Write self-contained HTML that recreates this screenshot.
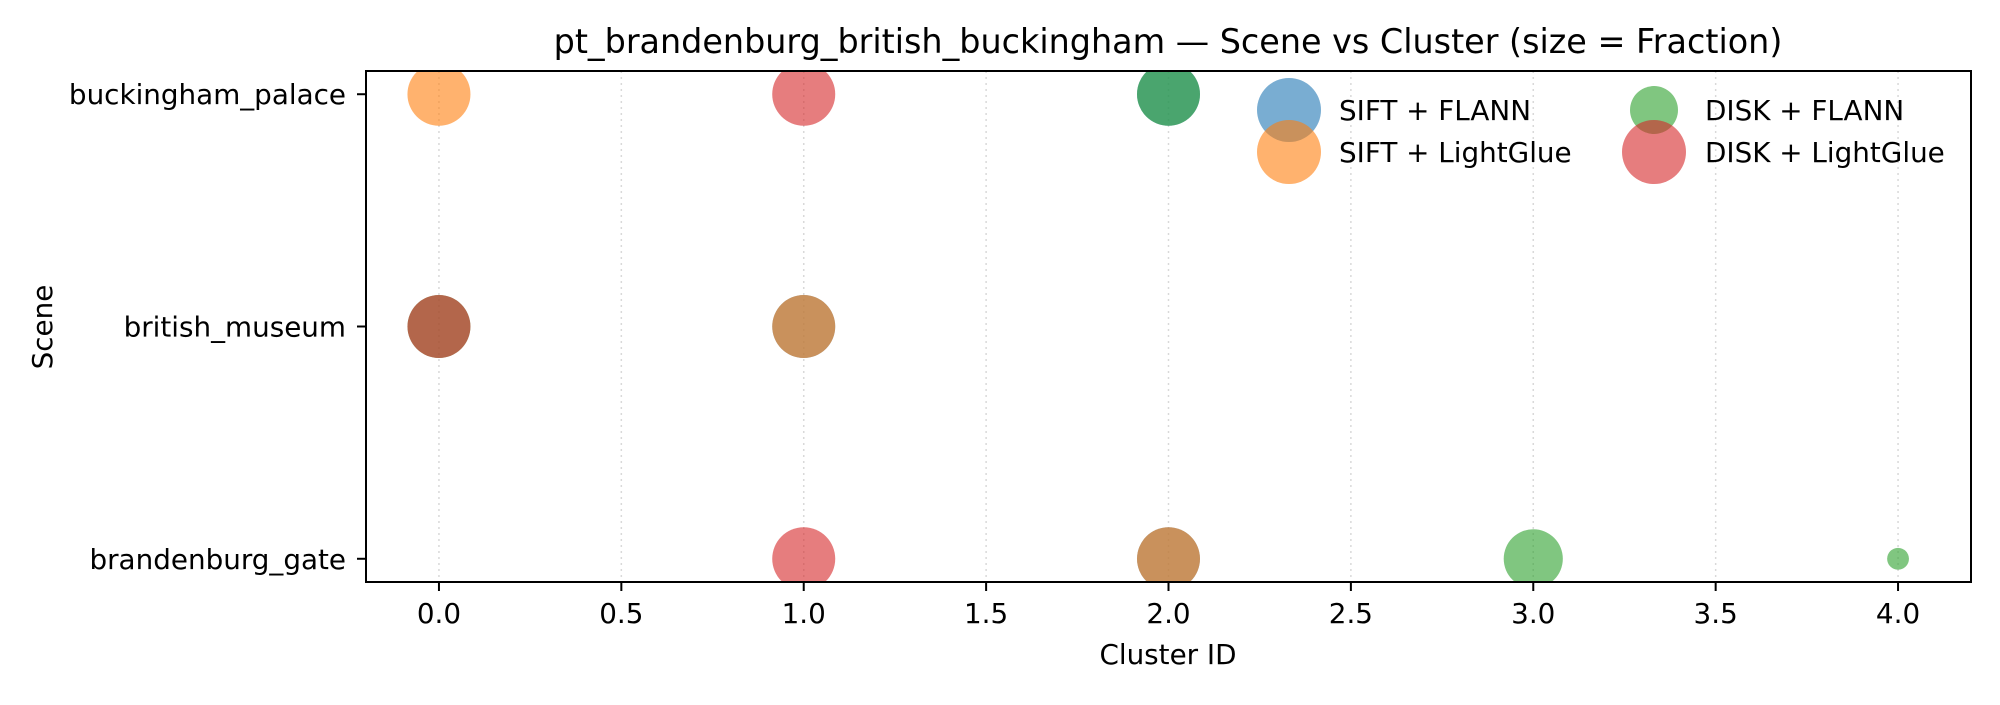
<!DOCTYPE html>
<html><head><meta charset="utf-8"><style>
body{margin:0;background:#fff;}
svg text{font-family:"DejaVu Sans","Liberation Sans",sans-serif;fill:#000;}
</style></head><body>
<svg id="chart" width="2000" height="700" viewBox="0 0 2000 700" xmlns="http://www.w3.org/2000/svg">
<rect width="2000" height="700" fill="#fff"/>
<text x="1168" y="53" font-size="33.4" text-anchor="middle">pt_brandenburg_british_buckingham — Scene vs Cluster (size = Fraction)</text>
<defs><clipPath id="clip"><rect x="366" y="71" width="1605" height="511"/></clipPath></defs>
<g id="grid"></g>
<g id="marks" clip-path="url(#clip)"></g>
<rect x="366" y="71" width="1605" height="511" fill="none" stroke="#000" stroke-width="2"/>
<g id="axes"></g>
<text x="1168" y="664" font-size="27.8" text-anchor="middle">Cluster ID</text>
<text x="0" y="0" font-size="27.8" text-anchor="middle" transform="translate(52,327) rotate(-90)">Scene</text>
<g>
<circle cx="1289" cy="110" r="32" fill="#1f77b4" fill-opacity="0.6"/>
<circle cx="1289" cy="152" r="32" fill="#ff7f0e" fill-opacity="0.6"/>
<circle cx="1654" cy="110" r="24" fill="#2ca02c" fill-opacity="0.6"/>
<circle cx="1654" cy="152" r="32" fill="#d62728" fill-opacity="0.6"/>
<text x="1339" y="120" font-size="27.8">SIFT + FLANN</text>
<text x="1339" y="162" font-size="27.8">SIFT + LightGlue</text>
<text x="1705" y="120" font-size="27.8">DISK + FLANN</text>
<text x="1705" y="162" font-size="27.8">DISK + LightGlue</text>
</g>
</svg>
<script>
const scenes = ["brandenburg_gate","british_museum","buckingham_palace"];
const xTicks = [0,0.5,1,1.5,2,2.5,3,3.5,4];
const xTickLabels = ["0.0","0.5","1.0","1.5","2.0","2.5","3.0","3.5","4.0"];
const seriesNames = ["SIFT + FLANN","SIFT + LightGlue","DISK + FLANN","DISK + LightGlue"];
const seriesColors = ["#1f77b4","#ff7f0e","#2ca02c","#d62728"];
const siftFlannCluster = [2,1,2];
const siftFlannScene = ["buckingham_palace","british_museum","brandenburg_gate"];
const siftFlannFrac = [1,1,1];
const siftLgCluster = [0,1,2];
const siftLgScene = ["buckingham_palace","british_museum","brandenburg_gate"];
const siftLgFrac = [1,1,1];
const diskFlannCluster = [2,0,3,4];
const diskFlannScene = ["buckingham_palace","british_museum","brandenburg_gate","brandenburg_gate"];
const diskFlannFrac = [1,1,0.88,0.12];
const diskLgCluster = [1,0,1];
const diskLgScene = ["buckingham_palace","british_museum","brandenburg_gate"];
const diskLgFrac = [1,1,1];

const L=366,R=1971,T=71,B=582;
const xMin=-0.2,xMax=4.2,yMin=-0.1,yMax=2.1;
const xs=v=>L+(v-xMin)/(xMax-xMin)*(R-L);
const ys=i=>B-(i-yMin)/(yMax-yMin)*(B-T);
const rs=f=>31.5*Math.sqrt(f);
const NS="http://www.w3.org/2000/svg";
const grid=document.getElementById('grid'),axes=document.getElementById('axes'),marks=document.getElementById('marks');
xTicks.forEach((t,i)=>{
  const x=xs(t);
  const g=document.createElementNS(NS,'line');
  g.setAttribute('x1',x);g.setAttribute('x2',x);g.setAttribute('y1',T);g.setAttribute('y2',B);
  g.setAttribute('stroke','#d9d9d9');g.setAttribute('stroke-width','1.5');g.setAttribute('stroke-dasharray','2,4');
  
  
  grid.appendChild(g);
  const tk=document.createElementNS(NS,'line');
  tk.setAttribute('x1',x);tk.setAttribute('x2',x);tk.setAttribute('y1',B);tk.setAttribute('y2',B+9);
  tk.setAttribute('stroke','#000');tk.setAttribute('stroke-width','2');
  
  
  axes.appendChild(tk);
  const tx=document.createElementNS(NS,'text');
  tx.setAttribute('x',x);tx.setAttribute('y',B+41);tx.setAttribute('font-size','27.8');tx.setAttribute('text-anchor','middle');
  tx.textContent=xTickLabels[i];
  
  
  axes.appendChild(tx);
});
scenes.forEach((s,i)=>{
  const y=ys(i);
  const tk=document.createElementNS(NS,'line');
  tk.setAttribute('x1',L-9);tk.setAttribute('x2',L);tk.setAttribute('y1',y);tk.setAttribute('y2',y);
  tk.setAttribute('stroke','#000');tk.setAttribute('stroke-width','2');
  
  
  axes.appendChild(tk);
  const tx=document.createElementNS(NS,'text');
  tx.setAttribute('x',L-20);tx.setAttribute('y',y+10);tx.setAttribute('font-size','27.8');tx.setAttribute('text-anchor','end');
  tx.textContent=s;
  
  
  axes.appendChild(tx);
});
const series=[[siftFlannCluster,siftFlannScene,siftFlannFrac],[siftLgCluster,siftLgScene,siftLgFrac],[diskFlannCluster,diskFlannScene,diskFlannFrac],[diskLgCluster,diskLgScene,diskLgFrac]];
series.forEach((sr,k)=>{
  sr[0].forEach((c,j)=>{
    const ci=document.createElementNS(NS,'circle');
    ci.setAttribute('cx',xs(c));ci.setAttribute('cy',ys(scenes.indexOf(sr[1][j])));ci.setAttribute('r',rs(sr[2][j]));
    ci.setAttribute('fill',seriesColors[k]);ci.setAttribute('fill-opacity','0.6');
    
    
    marks.appendChild(ci);
  });
});
</script>
</body></html>
